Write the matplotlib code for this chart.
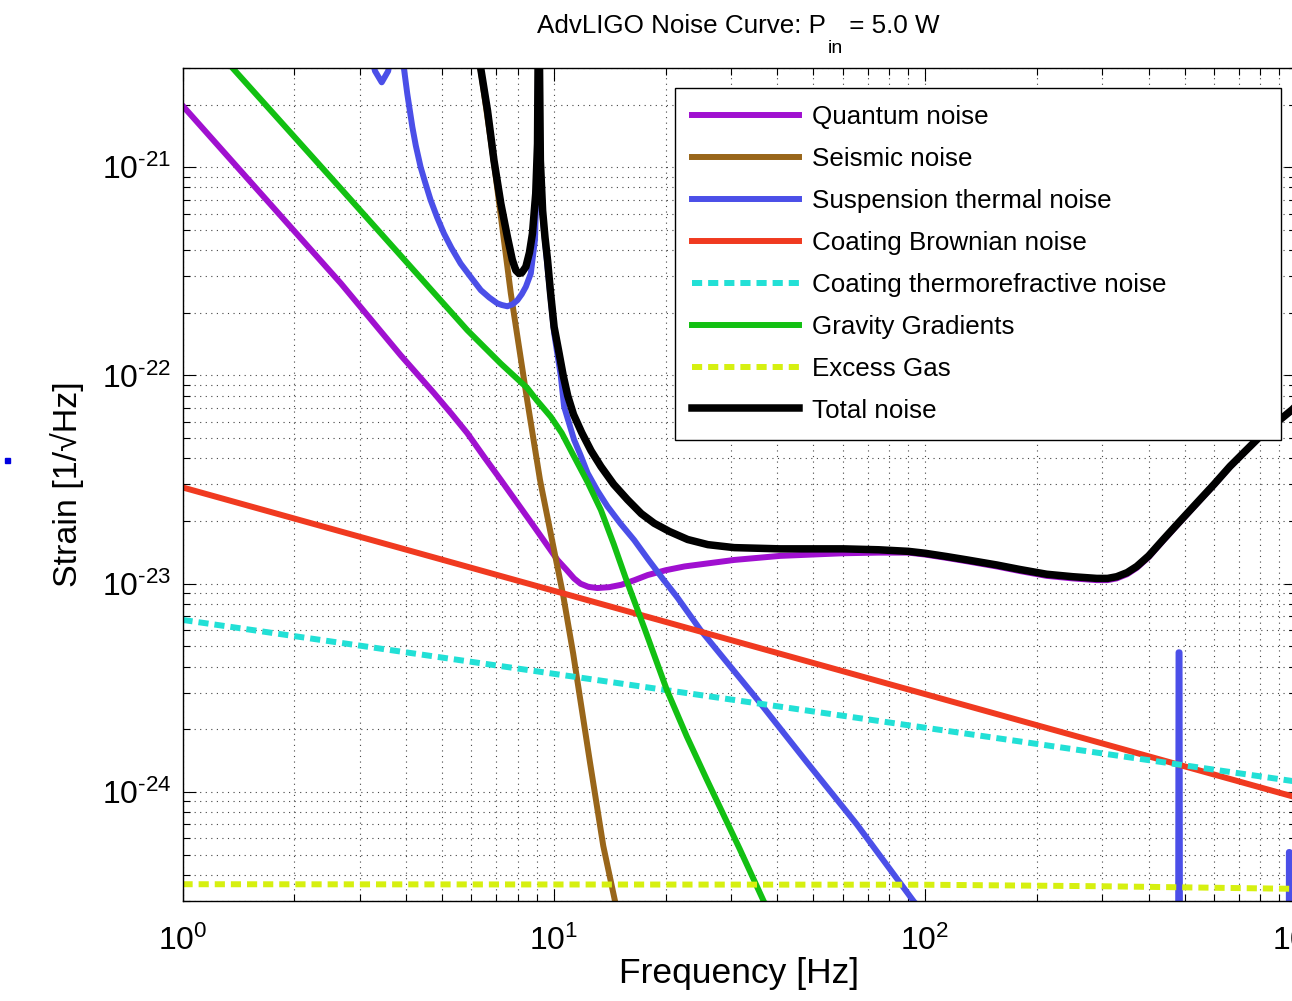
import matplotlib.pyplot as plt
from matplotlib.patches import Rectangle
from matplotlib.ticker import NullFormatter

plt.rcParams['font.family'] = ['Liberation Sans', 'DejaVu Sans']
plt.rcParams['mathtext.fontset'] = 'custom'
plt.rcParams['mathtext.rm'] = 'Liberation Sans'
plt.rcParams['mathtext.it'] = 'Liberation Sans:italic'
plt.rcParams['mathtext.bf'] = 'Liberation Sans:bold'

# noise budget curves, frequency [Hz] / strain [1/rtHz]
quantum_f = [1, 2.67, 3.87, 4.76, 5.3, 5.85, 6.5, 7.2, 8.0, 8.85, 9.5, 10.23, 10.8, 11.34,
             11.8, 12.4, 13.1, 14.1, 15.2, 16.5, 17.9, 20.0, 22.5, 30.6, 40.7, 60.2, 75,
             90.1, 100, 114.3, 130, 155.9, 180, 212.6, 250, 290, 310, 328, 350, 371.5, 400,
             438, 480, 539, 600, 662.4, 730, 814.6, 900, 973, 1000]
quantum_h = [1.98e-21, 2.77e-22, 1.25e-22, 8.22e-23, 6.55e-23, 5.28e-23, 4.05e-23, 3.15e-23,
             2.42e-23, 1.88e-23, 1.57e-23, 1.30e-23, 1.17e-23, 1.06e-23, 1.0e-23, 9.65e-24,
             9.53e-24, 9.62e-24, 9.88e-24, 1.04e-23, 1.10e-23, 1.16e-23, 1.21e-23, 1.30e-23,
             1.36e-23, 1.40e-23, 1.41e-23, 1.41e-23, 1.38e-23, 1.33e-23, 1.28e-23, 1.21e-23,
             1.15e-23, 1.09e-23, 1.06e-23, 1.04e-23, 1.04e-23, 1.06e-23, 1.11e-23, 1.19e-23,
             1.34e-23, 1.61e-23, 1.93e-23, 2.42e-23, 2.98e-23, 3.64e-23, 4.33e-23, 5.26e-23,
             6.08e-23, 6.82e-23, 7.15e-23]

seismic_f = [6.2, 6.36, 6.9, 7.66, 8.45, 9.18, 9.97, 10.61, 11.28, 12.52, 13.59, 14.61, 15.5]
seismic_h = [4e-21, 2.9e-21, 1.05e-21, 2.48e-22, 7.9e-23, 3.15e-23, 1.51e-23, 8.7e-24,
             4.6e-24, 1.38e-24, 5.5e-25, 3.0e-25, 1.6e-25]

susp_f = [3.2, 3.3, 3.44, 3.58, 3.66, 3.8, 3.95, 4.03, 4.16, 4.25, 4.38, 4.5, 4.66, 4.85,
          5.06, 5.3, 5.61, 5.95, 6.36, 6.7, 7.05, 7.25, 7.5, 7.75, 7.98, 8.2, 8.41, 8.67,
          8.9, 9.04, 9.08, 9.14, 9.2, 9.33, 9.62, 10.02, 10.44, 10.66, 11.34, 11.8, 12.33,
          13.1, 13.95, 15.1, 16.46, 18.0, 19.7, 21.5, 24.8, 35.2, 48.0, 65.4, 92.9, 120,
          200, 479, 481.5, 484.5, 487, 700, 951, 954.5, 959.5, 963, 1000]
susp_h = [3.6e-21, 2.9e-21, 2.56e-21, 2.9e-21, 3.6e-21, 6e-21, 2.97e-21, 2.26e-21, 1.56e-21,
          1.27e-21, 1.0e-21, 8.5e-22, 6.95e-22, 5.75e-22, 4.81e-22, 4.1e-22, 3.45e-22,
          3.0e-22, 2.57e-22, 2.37e-22, 2.22e-22, 2.18e-22, 2.15e-22, 2.2e-22, 2.30e-22,
          2.46e-22, 2.67e-22, 3.09e-22, 4.5e-22, 1.2e-21, 4e-21, 4e-21, 1.0e-21, 5.8e-22,
          3.3e-22, 1.6e-22, 1.0e-22, 7.08e-23, 4.91e-23, 4.15e-23, 3.40e-23, 2.8e-23,
          2.35e-23, 1.95e-23, 1.62e-23, 1.3e-23, 1.05e-23, 8.6e-24, 6.01e-24, 2.8e-24,
          1.39e-24, 7.0e-25, 3.0e-25, 1.67e-25, 4.7e-26, 6e-27, 4.68e-24, 4.68e-24, 6e-27,
          2.5e-27, 1.2e-27, 5.14e-25, 5.14e-25, 1.2e-27, 1.1e-27]

brownian_f = [1, 1000]
brownian_h = [2.9e-23, 9.4e-25]

thermoref_f = [1, 1000]
thermoref_h = [6.7e-24, 1.12e-24]

gravity_f = [1.3, 2.67, 5.85, 7.2, 8.49, 9.0, 9.81, 10.5, 11.34, 12.3, 13.39, 14.5, 15.6,
             17.6, 20.14, 22.8, 25.8, 31.7, 36.7, 40]
gravity_h = [3.3e-21, 7.9e-22, 1.65e-22, 1.14e-22, 8.69e-23, 7.6e-23, 6.34e-23, 5.3e-23,
             4.08e-23, 3.1e-23, 2.26e-23, 1.55e-23, 1.07e-23, 6.01e-24, 3.10e-24, 1.85e-24,
             1.15e-24, 5.3e-25, 3.0e-25, 2.2e-25]

gas_f = [1, 100, 300, 1000]
gas_h = [3.6e-25, 3.58e-25, 3.52e-25, 3.42e-25]

total_f = [6.2, 6.36, 6.63, 6.9, 7.2, 7.5, 7.73, 7.9, 8.06, 8.2, 8.41, 8.6, 8.76, 8.94,
           9.04, 9.08, 9.14, 9.2, 9.33, 9.47, 9.62, 9.8, 10.02, 10.3, 10.6, 10.9, 11.3,
           11.9, 12.6, 13.4, 14.5, 15.8, 17.2, 18.64, 20.5, 22.94, 26, 30.6, 40.7, 60.2,
           75, 90.1, 100, 114.3, 130, 155.9, 180, 212.6, 250, 290, 310, 328, 350, 371.5,
           400, 438, 480, 539, 600, 662.4, 730, 814.6, 900, 973, 1000]
total_h = [4.0e-21, 2.97e-21, 1.87e-21, 1.08e-21, 6.7e-22, 4.63e-22, 3.6e-22, 3.2e-22,
           3.09e-22, 3.12e-22, 3.33e-22, 3.9e-22, 4.81e-22, 7.48e-22, 1.30e-21, 4.0e-21,
           4.0e-21, 1.08e-21, 6.2e-22, 4.6e-22, 3.58e-22, 2.5e-22, 1.71e-22, 1.32e-22,
           1.0e-22, 8.0e-23, 6.5e-23, 5.3e-23, 4.35e-23, 3.65e-23, 3.0e-23, 2.53e-23,
           2.17e-23, 1.95e-23, 1.78e-23, 1.63e-23, 1.54e-23, 1.49e-23, 1.47e-23, 1.47e-23,
           1.455e-23, 1.43e-23, 1.40e-23, 1.35e-23, 1.30e-23, 1.23e-23, 1.17e-23, 1.11e-23,
           1.08e-23, 1.06e-23, 1.06e-23, 1.08e-23, 1.13e-23, 1.21e-23, 1.36e-23, 1.63e-23,
           1.95e-23, 2.44e-23, 3.0e-23, 3.66e-23, 4.35e-23, 5.28e-23, 6.1e-23, 6.84e-23,
           7.17e-23]

x_ticks = [1, 10, 100, 1000]
x_ticklabels = [r'$\mathregular{10^0}$', r'$\mathregular{10^1}$',
                r'$\mathregular{10^2}$', r'$\mathregular{10^3}$']
y_ticks = [1e-24, 1e-23, 1e-22, 1e-21]
y_ticklabels = [r'$\mathregular{10^{\text{-}24}}$', r'$\mathregular{10^{\text{-}23}}$',
                r'$\mathregular{10^{\text{-}22}}$', r'$\mathregular{10^{\text{-}21}}$']

W, H = 1292, 1001
fig = plt.figure(figsize=(W / 100, H / 100), dpi=100)
ax = fig.add_axes([182.5 / W, 100.3 / H, 1113.9 / W, 832.7 / H])

lw = 4.3
dash = (0, (1.7, 1.0))
ax.loglog(quantum_f, quantum_h, color='#A010D0', lw=lw, label='Quantum noise')
ax.loglog(seismic_f, seismic_h, color='#99661A', lw=lw, label='Seismic noise')
ax.loglog(susp_f, susp_h, color='#4B4FE8', lw=lw, label='Suspension thermal noise')
ax.loglog(brownian_f, brownian_h, color='#F03A20', lw=lw, label='Coating Brownian noise')
ax.loglog(thermoref_f, thermoref_h, color='#22E0D6', lw=lw, ls=dash,
          label='Coating thermorefractive noise')
ax.loglog(gravity_f, gravity_h, color='#12C012', lw=lw, label='Gravity Gradients')
ax.loglog(gas_f, gas_h, color='#D6F010', lw=lw, ls=dash, label='Excess Gas')
ax.loglog(total_f, total_h, color='black', lw=5.4, label='Total noise')

ax.set_xlim(1, 1000)
ax.set_ylim(3e-25, 3e-21)

ax.set_xticks(x_ticks)
ax.set_xticklabels(x_ticklabels)
ax.set_yticks(y_ticks)
ax.set_yticklabels(y_ticklabels)
ax.xaxis.set_minor_formatter(NullFormatter())
ax.yaxis.set_minor_formatter(NullFormatter())
ax.tick_params(which='both', direction='in', top=True, right=True, width=0.8)
ax.tick_params(which='major', length=9, labelsize=23)
ax.tick_params(axis='x', which='major', pad=18)
ax.tick_params(axis='y', which='major', pad=8)
ax.tick_params(which='minor', length=5)

ax.grid(True, which='both', color='#444444', lw=0.8, ls=(0, (1, 4)))
for s in ax.spines.values():
    s.set_linewidth(1.0)

ax.set_xlabel('Frequency [Hz]', fontsize=25.5, labelpad=0)
ax.set_ylabel('Strain [1/\u221aHz]', fontsize=24.5, labelpad=13)

# title with a dropped subscript, built from three pieces
t1 = fig.text(537 / W, 1 - 33.3 / H, 'AdvLIGO Noise Curve: P',
              ha='left', va='baseline', fontsize=18.7)
t2 = ax.annotate('in', xy=(1, 0), xycoords=t1, xytext=(1.5, -1),
                 textcoords='offset points', ha='left', va='top', fontsize=14,
                 annotation_clip=False)
ax.annotate(' = 5.0 W', xy=(1, 0), xycoords=(t2, t1), xytext=(-1, 0),
            textcoords='offset points', ha='left', va='bottom', fontsize=18.7,
            annotation_clip=False)

leg = ax.legend(loc='upper left', bbox_to_anchor=(0.4421, 0.5569, 0.5441, 0.4191),
                mode='expand', borderaxespad=0, fontsize=18.7, handlelength=4.1,
                handletextpad=0.5, borderpad=0.66, labelspacing=0.69,
                fancybox=False, framealpha=1, edgecolor='black')
leg.get_frame().set_linewidth(1.0)

# small marker left of the axis label
fig.patches.append(Rectangle((5 / W, 1 - 463 / H), 5 / W, 5 / H,
                             transform=fig.transFigure, color='#0000E0'))

fig.savefig('out.png', dpi=100)
